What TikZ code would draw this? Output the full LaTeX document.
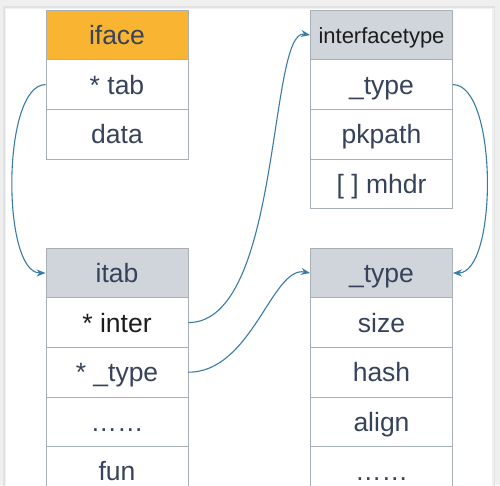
\documentclass[tikz,border=0pt]{standalone}
\usepackage{fontspec}
\setmainfont{Liberation Sans}
\usetikzlibrary{arrows.meta}
\definecolor{bgout}{HTML}{EFEFEF}
\definecolor{shadowc}{HTML}{E2E2E2}
\definecolor{orangeh}{HTML}{F9B431}
\definecolor{grayh}{HTML}{D0D5DC}
\definecolor{cellborder}{HTML}{A9AFB7}
\definecolor{txt}{HTML}{36435A}
\definecolor{txtdark}{HTML}{1C1C1C}
\definecolor{arrowc}{HTML}{3B7CA6}
\tikzset{
  cell/.style={draw=cellborder, line width=0.9pt, fill=white,
    minimum width=142pt, minimum height=49.6pt, inner sep=0pt,
    font=\fontsize{26.5}{31}\selectfont, text=txt,
    text height=19pt, text depth=0pt},
  headorange/.style={cell, fill=orangeh},
  headgray/.style={cell, fill=grayh},
  link/.style={draw=arrowc, line width=1.1pt, -{Stealth[length=9pt,width=7pt]}},
}
\begin{document}
\begin{tikzpicture}[x=1pt,y=-1pt]
\useasboundingbox (0,0) rectangle (500,485);
\begin{scope}
\clip (0,0) rectangle (500,485);
\fill[bgout] (0,0) rectangle (500,485);
\fill[shadowc] (3,6) rectangle (495,495);
\fill[white!50!shadowc] (4.5,7.5) rectangle (493.5,495);
\fill[white] (6,9) rectangle (492,495);

% left column
\node[headorange] (iface) at (117,35) {iface};
\node[cell] (tab) at (117,84.6) {* tab};
\node[cell] (data) at (117,134.2) {data};

\node[headgray] (itab) at (117,273) {itab};
\node[cell, text=txtdark] (inter) at (117,322.6) {* inter};
\node[cell] (ptype) at (117,372.2) {* \_type};
\node[cell] (ldots) at (117,421.8) {……};
\node[cell] (fun) at (117,471.4) {fun};

% right column
\node[headgray, text=txtdark, font=\fontsize{22}{26}\selectfont, text height=16pt] (ifacetype) at (381.5,35) {interfacetype};
\node[cell] (ittype) at (381.5,84.6) {\_type};
\node[cell] (pkpath) at (381.5,134.2) {pkpath};
\node[cell] (mhdr) at (381.5,183.8) {[ ] mhdr};

\node[headgray] (typeh) at (381.5,273) {\_type};
\node[cell] (size) at (381.5,322.6) {size};
\node[cell] (hash) at (381.5,372.2) {hash};
\node[cell] (align) at (381.5,421.8) {align};
\node[cell] (rdots) at (381.5,471.4) {……};

% connectors
\draw[link] (tab.west) .. controls +(-44,0) and +(-44,0) .. (itab.west);
\draw[link] (inter.east) .. controls (282,322.6) and (268,28) .. (ifacetype.west);
\draw[link] (ptype.east) .. controls (252,372.2) and (272,266) .. (typeh.west);
\draw[link] (ittype.east) .. controls +(45,0) and +(45,0) .. (typeh.east);
\end{scope}
\end{tikzpicture}
\end{document}
